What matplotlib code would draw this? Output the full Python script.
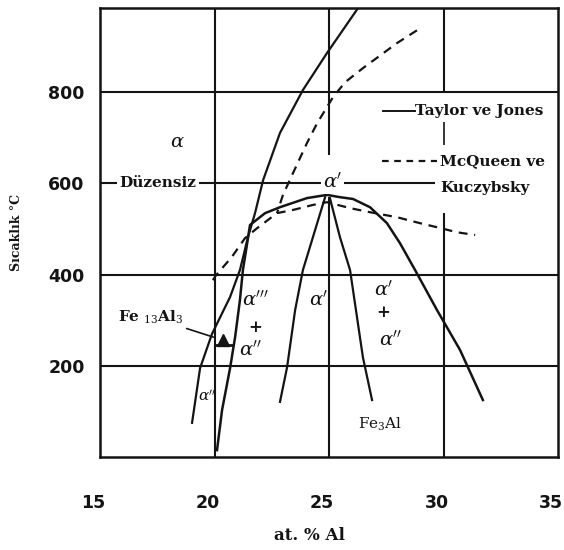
import matplotlib.pyplot as plt
import matplotlib.transforms as mtransforms

plt.rcParams['mathtext.fontset'] = 'dejavuserif'

# Fe-Al phase diagram
# x = at. % Al, t = temperature (C)

# Taylor ve Jones (solid)
alpha_edge_x = [26.27, 24.91, 23.86, 22.86, 22.12, 21.77, 21.46, 21.11, 20.68, 19.89, 19.37, 19.02]
alpha_edge_t = [985, 886, 805, 711, 607, 535, 482, 410, 351, 270, 195, 75]

dome_x = [20.11, 20.33, 20.68, 20.90, 21.11, 21.24, 21.38, 21.55, 22.21, 22.86, 24.04, 24.91,
          25.48, 26.05, 26.79, 27.53, 28.10, 28.76, 29.72, 30.72, 31.72]
dome_t = [15, 103, 195, 263, 344, 410, 454, 509, 535, 548, 568, 575,
          570, 566, 548, 513, 469, 410, 322, 235, 125]

inner_left_x = [24.83, 23.86, 23.52, 23.17, 22.86]
inner_left_t = [570, 410, 322, 197, 121]

inner_right_x = [25.04, 25.48, 25.92, 26.48, 26.88]
inner_right_t = [568, 482, 410, 219, 125]

# McQueen ve Kuczybsky (dashed)
mcq_upper_x = [28.84, 27.97, 26.48, 25.70, 25.17, 24.48, 24.04, 23.43, 22.99, 22.73]
mcq_upper_t = [936, 908, 853, 822, 789, 732, 689, 623, 575, 535]

mcq_dome_x = [19.93, 20.07, 20.76, 21.33, 21.86, 22.73, 23.43, 24.30, 24.91, 25.92,
              26.79, 27.97, 28.97, 29.72, 30.59, 31.38]
mcq_dome_t = [388, 399, 439, 480, 502, 535, 542, 553, 559, 546,
              537, 526, 513, 504, 493, 487]

# Fe13Al3 marker
fe13_x = 20.35
fe13_t = 257

x_ticks = [15, 20, 25, 30, 35]
t_ticks = [200, 400, 600, 800]

ink = '#141414'
serif = 'DejaVu Serif'

fig = plt.figure(figsize=(5.64, 5.5), dpi=100)
ax = fig.add_axes([100 / 564, 1 - 457 / 550, 458 / 564, 449 / 550])
ax.set_xlim(15, 35)
ax.set_ylim(0, 985)

# grid lines (broken where the scan has labels over them)
for t in (200, 400, 800):
    ax.axhline(t, color=ink, lw=1.5, zorder=1)
ax.hlines(600, 15, 29.65, color=ink, lw=1.5, zorder=1)
ax.axvline(20, color=ink, lw=1.5, zorder=1)
ax.vlines(25, 0, 570, color=ink, lw=1.5, zorder=1)
ax.vlines(25, 662, 985, color=ink, lw=1.5, zorder=1)
ax.vlines(30, 0, 535, color=ink, lw=1.5, zorder=1)
ax.vlines(30, 684, 735, color=ink, lw=1.2, zorder=1)
ax.vlines(30, 800, 985, color=ink, lw=1.5, zorder=1)

# curves
ax.plot(alpha_edge_x, alpha_edge_t, color=ink, lw=1.6, zorder=2)
ax.plot(dome_x, dome_t, color=ink, lw=1.8, zorder=2)
ax.plot(inner_left_x, inner_left_t, color=ink, lw=1.6, zorder=2)
ax.plot(inner_right_x, inner_right_t, color=ink, lw=1.6, zorder=2)
ax.plot(mcq_upper_x, mcq_upper_t, color=ink, lw=1.6, ls=(0, (4, 3)), zorder=2)
ax.plot(mcq_dome_x, mcq_dome_t, color=ink, lw=1.6, ls=(0, (4, 3)), zorder=2)

ax.plot([fe13_x], [fe13_t], marker='^', ms=9, color=ink, zorder=3)
ax.hlines(246, 19.98, 20.8, color=ink, lw=2, zorder=3)

# region labels
lab = dict(color=ink, family=serif, ha='center', va='center', zorder=4)
white = dict(facecolor='white', edgecolor='none', pad=1.5)
ax.text(18.36, 691, r'$\alpha$', fontsize=14, **lab)
ax.text(17.53, 600, 'Düzensiz', fontsize=11, fontweight='bold', bbox=white, **lab)
ax.text(25.15, 603, r"$\alpha'$", fontsize=14, bbox=white, **lab)
ax.text(21.8, 344, r"$\alpha'''$", fontsize=14, **lab)
ax.text(21.77, 283, '+', fontsize=12, fontweight='bold', **lab)
ax.text(21.6, 235, r"$\alpha''$", fontsize=14, **lab)
ax.text(24.55, 344, r"$\alpha'$", fontsize=14, **lab)
ax.text(27.4, 366, r"$\alpha'$", fontsize=14, **lab)
ax.text(27.36, 318, '+', fontsize=12, fontweight='bold', **lab)
ax.text(27.7, 257, r"$\alpha''$", fontsize=14, **lab)
ax.text(27.23, 72, r'Fe$_3$Al', fontsize=11, **lab)
ax.text(19.67, 134, r"$\alpha''$", fontsize=11, **lab)
ax.annotate(r'Fe $_{13}$Al$_3$', xy=(19.95, 263), xytext=(17.23, 307),
            fontsize=11, fontweight='bold', color=ink, family=serif,
            ha='center', va='center',
            arrowprops=dict(arrowstyle='-', color=ink, lw=1.2, shrinkA=0, shrinkB=0))

# legend drawn in the plot
leg = dict(fontsize=11, fontweight='bold', color=ink, family=serif,
           ha='left', va='center', zorder=4)
ax.plot([27.36, 28.76], [759, 759], color=ink, lw=1.4, zorder=3)
ax.text(28.76, 759, 'Taylor ve Jones', **leg)
ax.plot([27.31, 29.72], [649, 649], color=ink, lw=1.6, ls=(0, (3, 2.5)), zorder=3)
ax.text(29.85, 649, 'McQueen ve', **leg)
ax.text(29.85, 590, 'Kuczybsky', **leg)

ax.set_xticks(x_ticks)
ax.set_yticks(t_ticks)
ax.tick_params(length=0, labelsize=12.5, colors=ink)
ax.tick_params(axis='x', pad=27)
ax.tick_params(axis='y', pad=11)
shift = mtransforms.ScaledTranslation(-5 / 72, 0, fig.dpi_scale_trans)
for lbl in ax.get_xticklabels():
    lbl.set_transform(lbl.get_transform() + shift)
for lbl in ax.get_xticklabels() + ax.get_yticklabels():
    lbl.set_fontweight('bold')
for s in ax.spines.values():
    s.set_linewidth(1.8)
    s.set_color(ink)

fig.text(0.03, 0.578, 'Sıcaklık °C', rotation=90, ha='center', va='center',
         fontsize=9, fontweight='bold', family=serif, color=ink)
fig.text(0.548, 0.027, 'at. % Al', ha='center', va='center',
         fontsize=12, fontweight='bold', family=serif, color=ink)

fig.savefig('out.png', dpi=100)
